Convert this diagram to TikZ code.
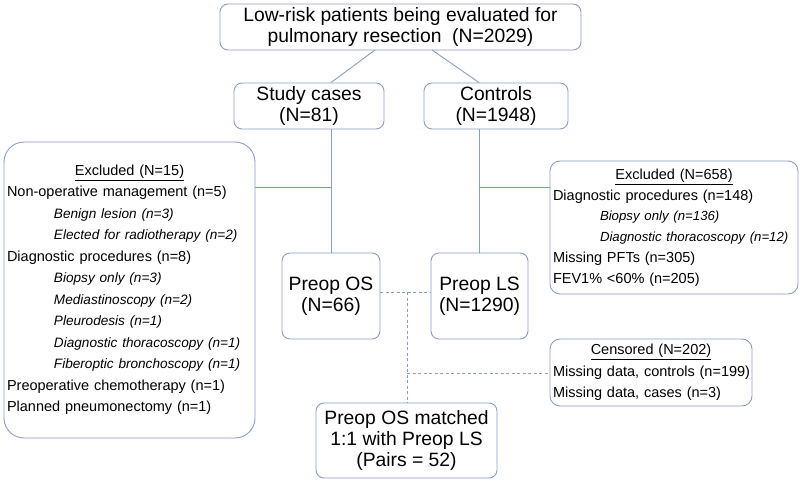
\documentclass[tikz,border=0pt]{standalone}
\usepackage{fontspec}
\setmainfont{Liberation Sans}
\usepackage{tikz}

\definecolor{boxblue}{RGB}{135,158,205}
\definecolor{linkgreen}{RGB}{112,172,118}

\newcommand{\reasonsub}[2][13.6]{\hspace*{47pt}\mbox{\fontsize{#1}{10}\selectfont\itshape #2}}

\begin{document}
\begin{tikzpicture}[x=1pt, y=-1pt,
    bigbox/.style={draw=boxblue, line width=0.9pt, rounded corners=8pt, align=center,
        font=\fontsize{19.3}{20.7}\selectfont, inner sep=0pt},
    listbox/.style={draw=boxblue, line width=0.9pt, rounded corners=10pt, align=left,
        inner xsep=3pt, inner ysep=0pt, font=\fontsize{14.5}{21.5}\selectfont},
    link/.style={draw=boxblue, line width=0.9pt},
    sidelink/.style={draw=linkgreen, line width=0.9pt},
    matchlink/.style={draw=boxblue, line width=0.9pt, dash pattern=on 3pt off 2.5pt}]
    \useasboundingbox (0,0) rectangle (800,494);

    \node[bigbox, minimum width=361pt, minimum height=46pt] at (400.5,27) (top)
        {Low-risk patients being evaluated for\\pulmonary resection\ \ (N=2029)};
    \node[bigbox, minimum width=150pt, minimum height=46pt] at (309,106) (study) {Study cases\\(N=81)};
    \node[bigbox, minimum width=144pt, minimum height=46pt] at (496,106) (ctrl) {Controls\\(N=1948)};
    \node[bigbox, minimum width=98pt, minimum height=86pt] at (331,296) (OS) {Preop OS\\(N=66)};
    \node[bigbox, minimum width=97pt, minimum height=86pt] at (479.5,296) (LS) {Preop LS\\(N=1290)};
    \node[bigbox, minimum width=181pt, minimum height=75pt] at (406.5,440.5) (match)
        {Preop OS matched\\1:1 with Preop LS\\(Pairs = 52)};

    % excluded and censored lists
    \node[listbox, rounded corners=20pt, text width=245pt, minimum height=296pt] at (129.5,290) (exL) {%
        \makebox[245pt]{\underline{Excluded (N=15)}}\\
        \mbox{Non-operative management (n=5)}\\
        \reasonsub{Benign lesion (n=3)}\\
        \reasonsub{Elected for radiotherapy (n=2)}\\
        \mbox{Diagnostic procedures (n=8)}\\
        \reasonsub{Biopsy only (n=3)}\\
        \reasonsub{Mediastinoscopy (n=2)}\\
        \reasonsub{Pleurodesis (n=1)}\\
        \reasonsub{Diagnostic thoracoscopy (n=1)}\\
        \reasonsub{Fiberoptic bronchoscopy (n=1)}\\
        \mbox{Preoperative chemotherapy (n=1)}\\
        \mbox{Planned pneumonectomy (n=1)}};
    \node[listbox, font=\fontsize{14.5}{20.7}\selectfont, text width=242pt, minimum height=133pt] at (674,227.5) (exR) {%
        \makebox[242pt]{\underline{Excluded (N=658)}}\\
        \mbox{Diagnostic procedures (n=148)}\\
        \reasonsub[13.2]{Biopsy only (n=136)}\\
        \reasonsub[13.2]{Diagnostic thoracoscopy (n=12)}\\
        \mbox{Missing PFTs (n=305)}\\
        \mbox{FEV1\% <60\% (n=205)}};
    \node[listbox, text width=196pt, minimum height=67pt] at (651,372.5) (cens) {%
        \makebox[196pt]{\underline{Censored (N=202)}}\\
        \mbox{Missing data, controls (n=199)}\\
        \mbox{Missing data, cases (n=3)}};

    \coordinate (tL) at (375,50);
    \coordinate (tR) at (432,50);
    \coordinate (jL) at (331,187);
    \coordinate (jR) at (479,187);
    \coordinate (m1) at (407,292);
    \coordinate (m2) at (407,373);

    \path[link] (tL) -- (study.north -| OS.north);
    \path[link] (tR) -- (ctrl.north -| jR);
    \path[link] (study.south -| OS.north) -- (OS.north);
    \path[link] (ctrl.south -| jR) -- (LS.north -| jR);
    \path[sidelink] (jL) -- (jL -| exL.east);
    \path[sidelink] (jR) -- (jR -| exR.west);
    \path[matchlink] (m1 -| OS.east) -- (m1 -| LS.west);
    \path[matchlink] (m1) -- (match.north -| m1);
    \path[matchlink] (m2) -- (m2 -| cens.west);
\end{tikzpicture}
\end{document}
